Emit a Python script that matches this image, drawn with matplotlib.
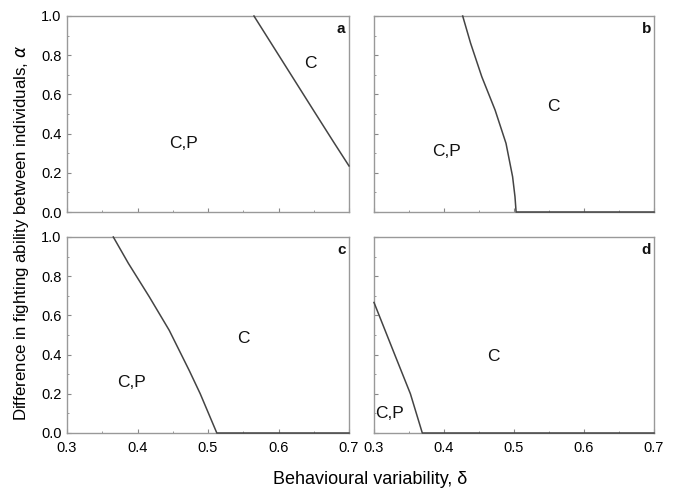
import numpy as np
import matplotlib
matplotlib.use('Agg')
import matplotlib.pyplot as plt
from matplotlib.ticker import MultipleLocator

plt.rcParams['font.family'] = ['Liberation Sans', 'DejaVu Sans']

# boundary curves (delta, alpha)
a_delta = [0.5652, 0.6045, 0.6494, 0.6785, 0.70]
a_alpha = [1.0, 0.776, 0.520, 0.355, 0.235]
b_delta = [0.4267, 0.438, 0.454, 0.473, 0.4886, 0.498, 0.5014, 0.503, 0.70]
b_alpha = [1.0, 0.861, 0.690, 0.520, 0.350, 0.180, 0.078, 0.0, 0.0]
c_delta = [0.3657, 0.387, 0.4167, 0.445, 0.4735, 0.489, 0.5125, 0.70]
c_alpha = [1.0, 0.866, 0.695, 0.524, 0.318, 0.20, 0.0, 0.0]
d_delta = [0.30, 0.3296, 0.352, 0.369, 0.70]
d_alpha = [0.666, 0.4, 0.2, 0.0, 0.0]

# region labels: (text, delta, alpha)
a_labels = [("C", 0.645, 0.76), ("C,P", 0.465, 0.35)]
b_labels = [("C", 0.556, 0.54), ("C,P", 0.403, 0.31)]
c_labels = [("C", 0.55, 0.48), ("C,P", 0.392, 0.26)]
d_labels = [("C", 0.47, 0.39), ("C,P", 0.322, 0.10)]

panels = [
    ("a", a_delta, a_alpha, a_labels),
    ("b", b_delta, b_alpha, b_labels),
    ("c", c_delta, c_alpha, c_labels),
    ("d", d_delta, d_alpha, d_labels),
]

W, H = 675, 491
fig = plt.figure(figsize=(W / 100, H / 100), dpi=100)

lefts = [67, 374]
widths = [282, 280]
tops = [16, 237]
ax_h = 196

for i, (letter, xs, ys, labels) in enumerate(panels):
    row, col = divmod(i, 2)
    ax = fig.add_axes([lefts[col] / W, 1 - (tops[row] + ax_h) / H,
                       widths[col] / W, ax_h / H])
    ax.plot(xs, ys, color='#444444', lw=1.1, clip_on=False, zorder=3)
    for txt, x, y in labels:
        ax.text(x, y, txt, fontsize=12.5, ha='center', va='center', color='#111111')
    ax.text(0.689, 0.935, letter, fontsize=11, fontweight='bold',
            ha='center', va='center', color='#111111')
    ax.set_xlim(0.3, 0.7)
    ax.set_ylim(0.0, 1.0)
    ax.xaxis.set_major_locator(MultipleLocator(0.1))
    ax.xaxis.set_minor_locator(MultipleLocator(0.05))
    ax.yaxis.set_major_locator(MultipleLocator(0.2))
    ax.yaxis.set_minor_locator(MultipleLocator(0.1))
    ax.tick_params(which='major', direction='in', length=3, width=0.8,
                   color='#888888', labelsize=10.5)
    ax.tick_params(axis='x', which='major', pad=6)
    ax.tick_params(axis='y', which='major', pad=4)
    ax.tick_params(which='minor', direction='in', length=1.5, width=0.6,
                   color='#888888')
    for s in ax.spines.values():
        s.set_color('#999999')
        s.set_linewidth(1.0)
    ax.xaxis.set_major_formatter(plt.FormatStrFormatter('%.1f'))
    ax.yaxis.set_major_formatter(plt.FormatStrFormatter('%.1f'))
    if row == 0:
        ax.tick_params(labelbottom=False)
    if col == 1:
        ax.tick_params(labelleft=False)

fig.text(370 / W, 1 - 480 / H, "Behavioural variability, \u03b4",
         fontsize=13, ha='center', va='center')
fig.text(22 / W, 1 - 233 / H,
         "Difference in fighting ability between individuals, $\\mathit{\\alpha}$",
         fontsize=12.2, ha='center', va='center', rotation=90)

fig.savefig('out.png', dpi=100)
